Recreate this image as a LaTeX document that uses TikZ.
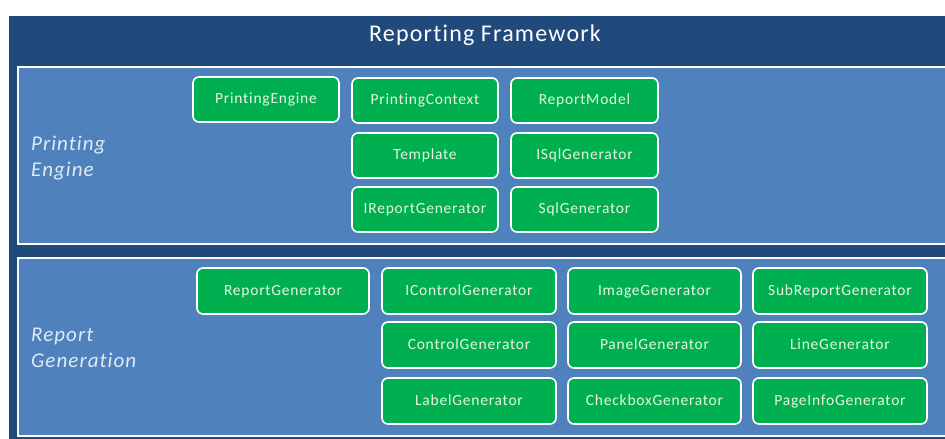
\documentclass[tikz,border=0pt]{standalone}
\usepackage{fontspec}
\setmainfont{Carlito}[LetterSpace=5, Ligatures=NoCommon]
\definecolor{frameblue}{RGB}{32,74,124}
\definecolor{panelblue}{RGB}{79,129,189}
\definecolor{boxgreen}{RGB}{0,176,80}
\definecolor{boxtext}{RGB}{232,244,222}
\definecolor{labeltext}{RGB}{225,233,245}
\tikzset{
  comp/.style={draw=white, line width=1.6pt, fill=boxgreen, rounded corners=6pt,
    text=boxtext, font=\fontsize{15.5}{17}\selectfont, inner sep=0pt,
    text height=10.5pt, text depth=2pt},
  panel/.style={draw=white, line width=1.6pt, fill=panelblue},
  section/.style={text=labeltext, font=\fontsize{21}{25.5}\selectfont\itshape,
    align=left, anchor=west, inner sep=0pt},
}
% box between pixel corners (x1,y1) and (x2,y2)
\newcommand\compbox[6]{%
  \node[comp, minimum width=#4-#2, minimum height=#5-#3] (#1) at ({(#2+#4)/2},{(#3+#5)/2}) {#6};}
\begin{document}
\begin{tikzpicture}[x=1pt,y=-1pt]
  \useasboundingbox (0,0) rectangle (945,439);
  \clip (0,0) rectangle (945,439);
  % outer frame
  \fill[frameblue] (9,16) rectangle (960,445);
  \node[text=white, font=\fontsize{24}{28}\selectfont] (title) at (485,35) {Reporting Framework};
  % panels
  \draw[panel] (18,67) rectangle (965,244);
  \draw[panel] (18,258) rectangle (965,436);
  \node[section] (pe) at (31,158) {Printing\\Engine};
  \node[section] (rg) at (31,348) {Report\\Generation};
  % printing engine components
  \compbox{printingengine}{193}{77}{339}{122}{PrintingEngine}
  \compbox{printingcontext}{352}{78}{498}{123}{PrintingContext}
  \compbox{reportmodel}{511}{78}{658}{123}{ReportModel}
  \compbox{template}{352}{133}{498}{178}{Template}
  \compbox{isqlgenerator}{511}{133}{658}{178}{ISqlGenerator}
  \compbox{ireportgenerator}{352}{187}{498}{232}{IReportGenerator}
  \compbox{sqlgenerator}{511}{187}{658}{232}{SqlGenerator}
  % report generation components
  \compbox{reportgenerator}{197}{268}{369}{314}{ReportGenerator}
  \compbox{icontrolgenerator}{382}{268}{556}{314}{IControlGenerator}
  \compbox{imagegenerator}{568}{268}{741}{314}{ImageGenerator}
  \compbox{subreportgenerator}{753}{268}{927}{314}{SubReportGenerator}
  \compbox{controlgenerator}{382}{322}{556}{368}{ControlGenerator}
  \compbox{panelgenerator}{568}{322}{741}{368}{PanelGenerator}
  \compbox{linegenerator}{753}{322}{927}{368}{LineGenerator}
  \compbox{labelgenerator}{382}{378}{556}{424}{LabelGenerator}
  \compbox{checkboxgenerator}{568}{378}{741}{424}{CheckboxGenerator}
  \compbox{pageinfogenerator}{753}{378}{927}{424}{PageInfoGenerator}
\end{tikzpicture}
\end{document}
